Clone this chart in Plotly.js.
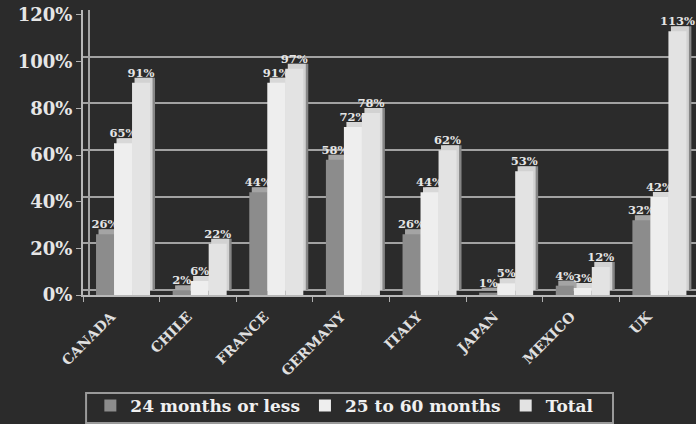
<!DOCTYPE html>
<html>
<head>
<meta charset="utf-8">
<script src="https://cdn.plot.ly/plotly-3.0.1.min.js"></script>
<style>
  html, body { margin: 0; padding: 0; background: #2b2b2b; }
  #chart { width: 696px; height: 424px; }
</style>
</head>
<body>
<div id="chart"></div>
<script>
// Share of contracts by duration, per country (percent)
const countries = ['CANADA', 'CHILE', 'FRANCE', 'GERMANY', 'ITALY', 'JAPAN', 'MEXICO', 'UK'];
const upTo24Months = [26, 2, 44, 58, 26, 1, 4, 32];
const from25To60Months = [65, 6, 91, 72, 44, 5, 3, 42];
const totalShare = [91, 22, 97, 78, 62, 53, 12, 113];
const seriesNames = ['24 months or less', '25 to 60 months', 'Total'];
const yTicks = [0, 20, 40, 60, 80, 100, 120];
const yTickText = yTicks.map(v => v + '%');

const serif = 'DejaVu Serif, Liberation Serif, serif';
const faceColors = ['#8c8c8c', '#eeeeee', '#e3e3e3'];
const topColors = ['#a4a4a4', '#d8d8d8', '#d2d2d2'];
const sideColors = ['#5e5e5e', '#b0b0b0', '#868686'];
const barWidth = 0.235;
const barOffsets = [-0.33, -0.095, 0.14];
const depthShift = 0.065;

const seriesValues = [upTo24Months, from25To60Months, totalShare];
const traces = [];

// Side faces: on the wall axis (y), shifted right by the depth
seriesValues.forEach((vals, i) => {
  traces.push({
    type: 'bar', x: countries, y: vals, yaxis: 'y',
    offset: barOffsets[i] + depthShift, width: barWidth,
    marker: { color: sideColors[i], line: { width: 0 } },
    showlegend: false, hoverinfo: 'skip'
  });
});

// Top faces: on the wall axis, above the front face
seriesValues.forEach((vals, i) => {
  traces.push({
    type: 'bar', x: countries, y: vals, yaxis: 'y',
    offset: barOffsets[i] + depthShift / 2, width: barWidth,
    marker: { color: topColors[i], line: { width: 0 } },
    showlegend: false, hoverinfo: 'skip'
  });
});

// Front faces on the front axis (y2) with their value labels
seriesValues.forEach((vals, i) => {
  traces.push({
    type: 'bar', x: countries, y: vals, yaxis: 'y2', name: seriesNames[i],
    offset: barOffsets[i], width: barWidth,
    marker: { color: faceColors[i], line: { width: 0 } },
    text: vals.map(v => v + '%'), textposition: 'outside', constraintext: 'none',
    textfont: { family: serif, size: 11.5, color: '#e6e6e6', weight: 'bold' },
    cliponaxis: false
  });
});

const layout = {
  width: 696, height: 424,
  margin: { l: 83, r: 0, t: 10, b: 129 },
  paper_bgcolor: '#2b2b2b', plot_bgcolor: '#2b2b2b',
  barmode: 'overlay',
  font: { family: serif, color: '#e2e2e2' },
  xaxis: {
    type: 'category', range: [-0.5, 7.5],
    tickson: 'boundaries', ticks: 'outside', ticklen: 5, tickcolor: '#b0b0b0',
    showline: true, linecolor: '#b8b8b8', linewidth: 2,
    tickangle: -45, ticklabelshift: -10, ticklabelstandoff: 6,
    tickfont: { family: serif, size: 14, color: '#e0e0e0', weight: 'bold' },
    showgrid: false, fixedrange: true
  },
  // back wall: gridlines and the floor line
  yaxis: {
    anchor: 'free', position: 0.0098,
    range: [-2.14, 120], tickvals: yTicks,
    showticklabels: false, ticks: '',
    showgrid: true, gridcolor: '#a2a2a2', gridwidth: 2,
    zeroline: false, showline: true, linecolor: '#a2a2a2', linewidth: 2,
    fixedrange: true
  },
  // front edge: tick marks and labels
  yaxis2: {
    overlaying: 'y', anchor: 'x', side: 'left',
    range: [0, 122.14], tickvals: yTicks, ticktext: yTickText,
    ticks: 'outside', ticklen: 5, tickcolor: '#b0b0b0',
    showline: true, linecolor: '#b8b8b8', linewidth: 2,
    showgrid: false, zeroline: false,
    tickfont: { family: serif, size: 18, color: '#e6e6e6', weight: 'bold' },
    fixedrange: true
  },
  legend: {
    orientation: 'h', x: 0.012, xanchor: 'left', y: -0.4526, yanchor: 'bottom',
    bgcolor: 'rgba(0,0,0,0)', borderwidth: 0,
    font: { family: serif, size: 17, color: '#f0f0f0', weight: 'bold' },
    itemwidth: 30, tracegroupgap: 0
  },
  // frame around the legend
  shapes: [{
    type: 'rect', xref: 'paper', yref: 'paper',
    x0: 0.005, x1: 0.8646, y0: -0.3439, y1: -0.449,
    line: { color: '#9a9a9a', width: 2 }, fillcolor: 'rgba(0,0,0,0)'
  }],
  showlegend: true
};

Plotly.newPlot('chart', traces, layout, { displayModeBar: false, staticPlot: true });
</script>
</body>
</html>
